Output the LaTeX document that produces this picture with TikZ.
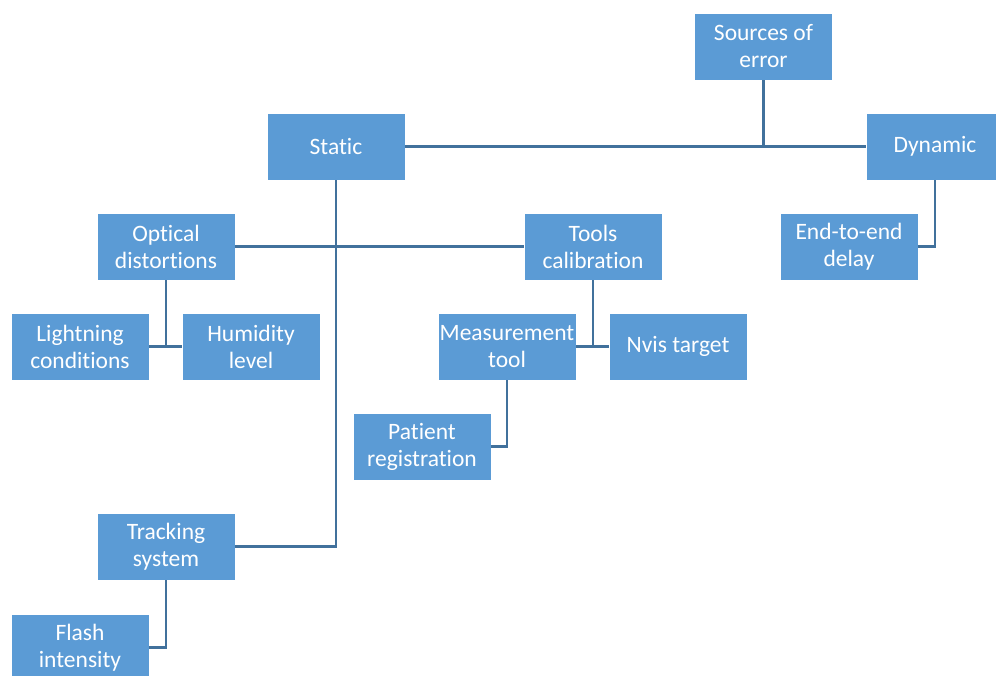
\documentclass[tikz,border=0pt]{standalone}
\usepackage{fontspec}
\setmainfont[Ligatures=NoCommon]{Carlito}
\definecolor{boxblue}{HTML}{5B9BD5}
\definecolor{lineblue}{HTML}{41719C}
\begin{document}
\begin{tikzpicture}[x=1pt, y=-1pt, line width=2.6pt, main node/.style={rectangle,draw=white,line width=0.8pt,fill=boxblue,text=white,minimum width=138pt,minimum height=67pt,inner sep=0pt,align=center,font=\fontsize{23.5}{27}\selectfont}]
\clip (0,0) rectangle (996,675);
\fill[white] (0,0) rectangle (996,675);
\begin{scope}
\node[main node] (src) at (763.5,46.5) {Sources of\\error};%top
\node[main node] (stat) at (336,146.5) {Static};
\node[main node] (dyn) at (935,146.5) {Dynamic};
\node[main node] (opt) at (166,246.5) {Optical\\distortions};
\node[main node] (tool) at (593,246.5) {Tools\\calibration};
\node[main node] (delay) at (849,246.5) {End-to-end\\delay};
\node[main node] (light) at (80,346.5) {Lightning\\conditions};
\node[main node] (hum) at (251,346.5) {Humidity\\level};
\node[main node] (meas) at (507,346.5) {Measurement\\tool};
\node[main node] (nvis) at (678,346.5) {Nvis target};
\node[main node] (pat) at (422,446.5) {Patient\\registration};
\node[main node] (track) at (166,546.5) {Tracking\\system};
\node[main node] (flash) at (80,647.5) {Flash\\intensity};
\end{scope}
\begin{scope}[lineblue]
\draw (stat) -- (dyn);
\draw (src) -- (src |- stat);
\draw (stat) |- (track);
\draw (opt) -- (tool);
\draw (dyn) |- (delay);
\draw (light) -- (hum);
\draw (opt) -- (opt |- light);
\draw (meas) -- (nvis);
\draw (tool) -- (tool |- nvis);
\draw (meas) |- (pat);
\draw (track) |- (flash);
\end{scope}
\end{tikzpicture}
\end{document}
